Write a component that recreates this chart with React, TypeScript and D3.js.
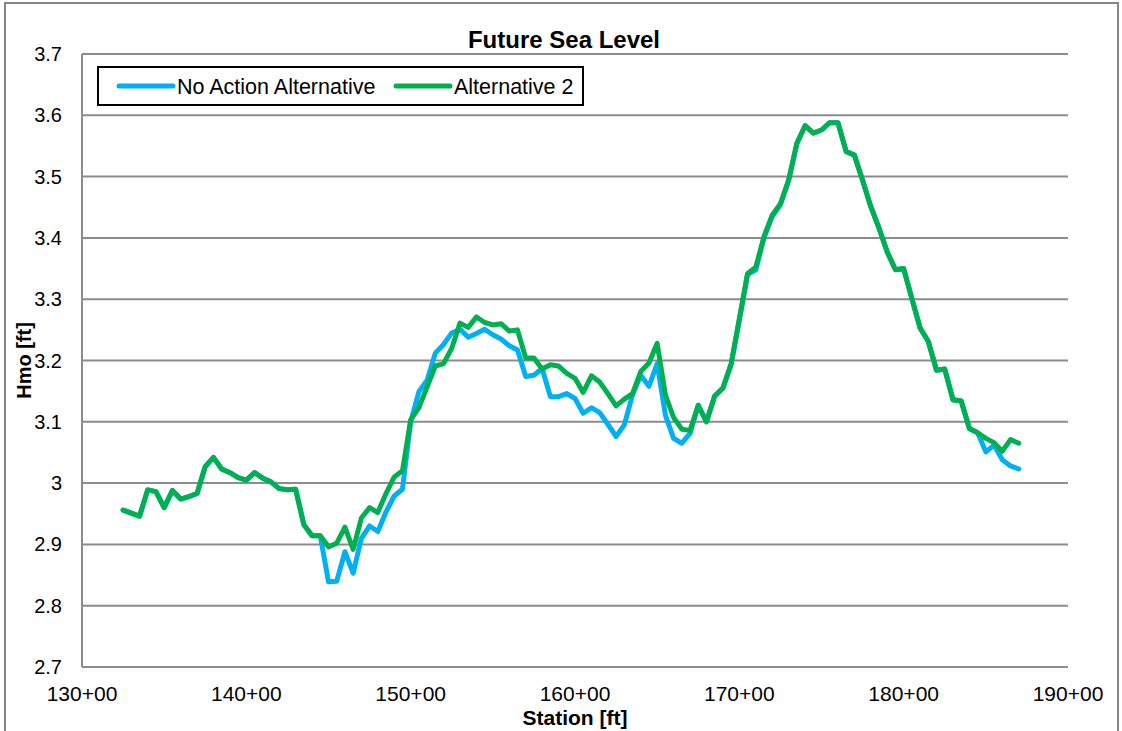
import React from "react";
import * as d3 from "d3";

const stations = [
  13250, 13300, 13350, 13400, 13450, 13500, 13550, 13600, 13650, 13700,
  13750, 13800, 13850, 13900, 13950, 14000, 14050, 14100, 14150, 14200,
  14250, 14300, 14350, 14400, 14450, 14500, 14550, 14600, 14650, 14700,
  14750, 14800, 14850, 14900, 14950, 15000, 15050, 15100, 15150, 15200,
  15250, 15300, 15350, 15400, 15450, 15500, 15550, 15600, 15650, 15700,
  15750, 15800, 15850, 15900, 15950, 16000, 16050, 16100, 16150, 16200,
  16250, 16300, 16350, 16400, 16450, 16500, 16550, 16600, 16650, 16700,
  16750, 16800, 16850, 16900, 16950, 17000, 17050, 17100, 17150, 17200,
  17250, 17300, 17350, 17400, 17450, 17500, 17550, 17600, 17650, 17700,
  17750, 17800, 17850, 17900, 17950, 18000, 18050, 18100, 18150, 18200,
  18250, 18300, 18350, 18400, 18450, 18500, 18550, 18600, 18650, 18700,
];

const noAction = [
  2.956, 2.951, 2.946, 2.989, 2.986, 2.960, 2.988, 2.974, 2.978, 2.983,
  3.027, 3.042, 3.023, 3.017, 3.009, 3.005, 3.017, 3.008, 3.002, 2.991,
  2.989, 2.990, 2.932, 2.914, 2.914, 2.839, 2.840, 2.888, 2.853, 2.910,
  2.930, 2.921, 2.953, 2.979, 2.990, 3.100, 3.149, 3.168, 3.212, 3.226,
  3.245, 3.251, 3.238, 3.244, 3.251, 3.242, 3.235, 3.224, 3.217, 3.174,
  3.176, 3.187, 3.141, 3.141, 3.146, 3.138, 3.114, 3.123, 3.115, 3.096,
  3.076, 3.095, 3.144, 3.176, 3.158, 3.195, 3.111, 3.073, 3.065, 3.081,
  3.127, 3.100, 3.142, 3.155, 3.194, 3.266, 3.340, 3.348, 3.400, 3.435,
  3.454, 3.494, 3.554, 3.583, 3.571, 3.576, 3.588, 3.588, 3.541, 3.535,
  3.494, 3.451, 3.416, 3.377, 3.348, 3.350, 3.301, 3.253, 3.231, 3.184,
  3.186, 3.136, 3.134, 3.089, 3.082, 3.051, 3.062, 3.038, 3.028, 3.023,
];

const alternative2 = [
  2.956, 2.951, 2.946, 2.989, 2.986, 2.960, 2.988, 2.974, 2.978, 2.983,
  3.027, 3.042, 3.023, 3.017, 3.009, 3.005, 3.017, 3.008, 3.002, 2.991,
  2.989, 2.990, 2.932, 2.914, 2.914, 2.896, 2.902, 2.928, 2.892, 2.943,
  2.960, 2.952, 2.983, 3.010, 3.020, 3.103, 3.123, 3.157, 3.191, 3.195,
  3.220, 3.261, 3.254, 3.271, 3.262, 3.258, 3.260, 3.248, 3.250, 3.204,
  3.204, 3.186, 3.193, 3.191, 3.179, 3.171, 3.148, 3.175, 3.165, 3.146,
  3.126, 3.137, 3.146, 3.182, 3.196, 3.228, 3.144, 3.107, 3.088, 3.086,
  3.127, 3.100, 3.142, 3.155, 3.194, 3.268, 3.342, 3.352, 3.402, 3.437,
  3.456, 3.494, 3.554, 3.583, 3.571, 3.576, 3.588, 3.588, 3.541, 3.535,
  3.494, 3.451, 3.416, 3.377, 3.348, 3.350, 3.301, 3.253, 3.231, 3.184,
  3.186, 3.136, 3.134, 3.089, 3.082, 3.073, 3.066, 3.052, 3.071, 3.065,
];

const xTicks = [13000, 14000, 15000, 16000, 17000, 18000, 19000];
const yTicks = [2.7, 2.8, 2.9, 3.0, 3.1, 3.2, 3.3, 3.4, 3.5, 3.6, 3.7];

const seriesNames = ["No Action Alternative", "Alternative 2"];
const seriesColors = ["#00B0F0", "#00B050"];

const W = 1122;
const H = 731;
const plot = { left: 82, right: 1068, top: 54, bottom: 667 };
const FONT = "'Liberation Sans', Arial, sans-serif";

export default function App() {
  const x = d3.scaleLinear().domain([13000, 19000]).range([plot.left, plot.right]);
  const y = d3.scaleLinear().domain([2.7, 3.7]).range([plot.bottom, plot.top]);
  const line = d3
    .line<number>()
    .x((_, i) => x(stations[i]))
    .y((d) => y(d));
  const series = [noAction, alternative2];
  const fmtX = (v: number) => `${Math.round(v / 100)}+00`;
  const fmtY = (v: number) => d3.format("")(+v.toFixed(1));

  return (
    <svg
      width={W}
      height={H}
      style={{ position: "absolute", left: 0, top: 0, display: "block", background: "#fff" }}
      fontFamily={FONT}
    >
      <rect x={0} y={0} width={W} height={H} fill="#fff" />
      {/* outer chart border */}
      <rect x={5} y={3} width={1113} height={H + 10} fill="none" stroke="#868686" strokeWidth={2} />
      {/* gridlines */}
      {yTicks.map((t) => (
        <line
          key={"g" + t}
          x1={plot.left}
          x2={plot.right}
          y1={y(t)}
          y2={y(t)}
          stroke="#8c8c8c"
          strokeWidth={2}
        />
      ))}
      {/* plot axes */}
      <line x1={plot.left} x2={plot.left} y1={plot.top} y2={plot.bottom} stroke="#8c8c8c" strokeWidth={2} />
      {/* y tick labels */}
      {yTicks.map((t) => (
        <text key={"yl" + t} x={62} y={y(t)} dy="0.35em" textAnchor="end" fontSize={20} fill="#000">
          {fmtY(t)}
        </text>
      ))}
      {/* x tick labels */}
      {xTicks.map((t) => (
        <text key={"xl" + t} x={x(t)} y={701} textAnchor="middle" fontSize={21} fill="#000">
          {fmtX(t)}
        </text>
      ))}
      {/* series */}
      {series.map((s, i) => (
        <path
          key={"s" + i}
          d={line(s) || ""}
          fill="none"
          stroke={seriesColors[i]}
          strokeWidth={5}
          strokeLinejoin="round"
          strokeLinecap="round"
        />
      ))}
      {/* title */}
      <text x={564} y={48} textAnchor="middle" fontSize={24} fontWeight="bold" fill="#000">
        Future Sea Level
      </text>
      {/* axis titles */}
      <text x={575} y={725} textAnchor="middle" fontSize={21} fontWeight="bold" fill="#000">
        Station [ft]
      </text>
      <text
        transform={`translate(31,${(plot.top + plot.bottom) / 2}) rotate(-90)`}
        textAnchor="middle"
        fontSize={20}
        fontWeight="bold"
        fill="#000"
      >
        Hmo [ft]
      </text>
      {/* legend */}
      <rect x={98} y={67} width={485} height={38} fill="#fff" stroke="#000" strokeWidth={2} />
      {seriesNames.map((n, i) => {
        const lx = i === 0 ? 119 : 396;
        return (
          <g key={"lg" + i}>
            <line
              x1={lx}
              x2={lx + 54}
              y1={86}
              y2={86}
              stroke={seriesColors[i]}
              strokeWidth={5}
              strokeLinecap="round"
            />
            <text x={lx + 58} y={86} dy="0.35em" fontSize={21.5} fill="#000">
              {n}
            </text>
          </g>
        );
      })}
    </svg>
  );
}
